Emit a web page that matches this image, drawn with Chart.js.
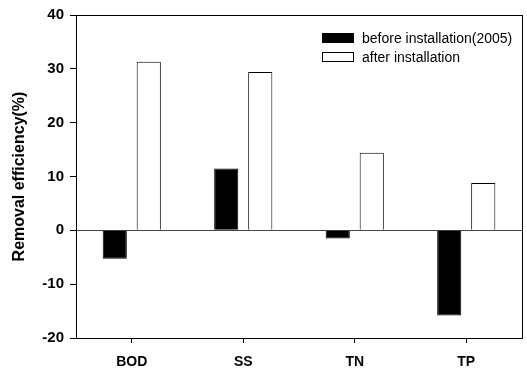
<!DOCTYPE html>
<html lang="en">
<head>
    <meta charset="UTF-8">
    <title>Removal efficiency</title>
    <script src="https://cdn.jsdelivr.net/npm/chart.js"></script>
    <style>
        html, body { margin: 0; padding: 0; background: #fff; }
        #wrap { position: relative; width: 527px; height: 368px; }
        #legend { position: absolute; left: 322px; top: 28px; font: 14px "Liberation Sans", Arial, sans-serif; color: #000; }
        #legend .item { display: flex; align-items: center; height: 19px; }
        #legend .box { width: 30px; height: 8px; border: 1px solid #000; margin-right: 8px; }
    </style>
</head>
<body>
    <div id="wrap">
        <canvas id="myChart" width="527" height="368"></canvas>
        <div id="legend"></div>
    </div>

    <script>
        // data
        const categories = ['BOD', 'SS', 'TN', 'TP'];
        const beforeValues = [-5.3, 11.5, -1.5, -15.8];   // before installation(2005)
        const afterValues = [31.3, 29.4, 14.4, 8.8];      // after installation
        const seriesNames = ['before installation(2005)', 'after installation'];
        const yMin = -20, yMax = 40, yStep = 10;

        const fontFamily = '"Liberation Sans", Arial, sans-serif';

        // frame round the plot area
        const framePlugin = {
            id: 'frame',
            afterDraw(chart) {
                const a = chart.chartArea;
                const ctx = chart.ctx;
                ctx.save();
                ctx.strokeStyle = '#000';
                ctx.lineWidth = 1;
                ctx.strokeRect(a.left + 0.5, a.top + 0.5, a.right - a.left, a.bottom - a.top);
                ctx.restore();
            }
        };

        const ctx = document.getElementById('myChart').getContext('2d');
        const chart = new Chart(ctx, {
            type: 'bar',
            data: {
                labels: categories,
                datasets: [
                    {
                        label: seriesNames[0],
                        data: beforeValues,
                        backgroundColor: '#000',
                        borderColor: '#000',
                        borderWidth: 1
                    },
                    {
                        label: seriesNames[1],
                        data: afterValues,
                        backgroundColor: '#fff',
                        borderColor: '#000',
                        borderWidth: 1
                    }
                ]
            },
            options: {
                responsive: false,
                animation: false,
                datasets: {
                    bar: { categoryPercentage: 0.61, barPercentage: 0.71 }
                },
                layout: { padding: { left: 0, top: 10, right: 5, bottom: 0 } },
                plugins: {
                    legend: { display: false },
                    tooltip: { enabled: false }
                },
                scales: {
                    x: {
                        afterFit: s => { s.height = 30; },
                        grid: {
                            offset: false,
                            drawOnChartArea: false,
                            drawTicks: true,
                            tickLength: 5,
                            tickColor: '#000'
                        },
                        border: { display: false },
                        ticks: {
                            color: '#000',
                            padding: 11,
                            font: { family: fontFamily, size: 14, weight: 'bold' }
                        }
                    },
                    y: {
                        min: yMin,
                        max: yMax,
                        afterFit: s => { s.width = 76; },
                        grid: {
                            color: c => (c.tick && c.tick.value === 0) ? '#444' : 'rgba(0,0,0,0)',
                            tickColor: '#000',
                            tickLength: 6
                        },
                        border: { display: false },
                        ticks: {
                            stepSize: yStep,
                            color: '#000',
                            padding: 6,
                            font: { family: fontFamily, size: 15, weight: 'bold' }
                        },
                        title: {
                            display: true,
                            text: 'Removal efficiency(%)',
                            color: '#000',
                            padding: { top: 10, bottom: 0 },
                            font: { family: fontFamily, size: 16, weight: 'bold' }
                        }
                    }
                }
            },
            plugins: [framePlugin]
        });

        // legend inside the plot area, built from the datasets
        const legendEl = document.getElementById('legend');
        chart.data.datasets.forEach(ds => {
            const item = document.createElement('div');
            item.className = 'item';
            const box = document.createElement('span');
            box.className = 'box';
            box.style.background = ds.backgroundColor;
            const txt = document.createElement('span');
            txt.textContent = ds.label;
            item.appendChild(box);
            item.appendChild(txt);
            legendEl.appendChild(item);
        });
    </script>
</body>
</html>
